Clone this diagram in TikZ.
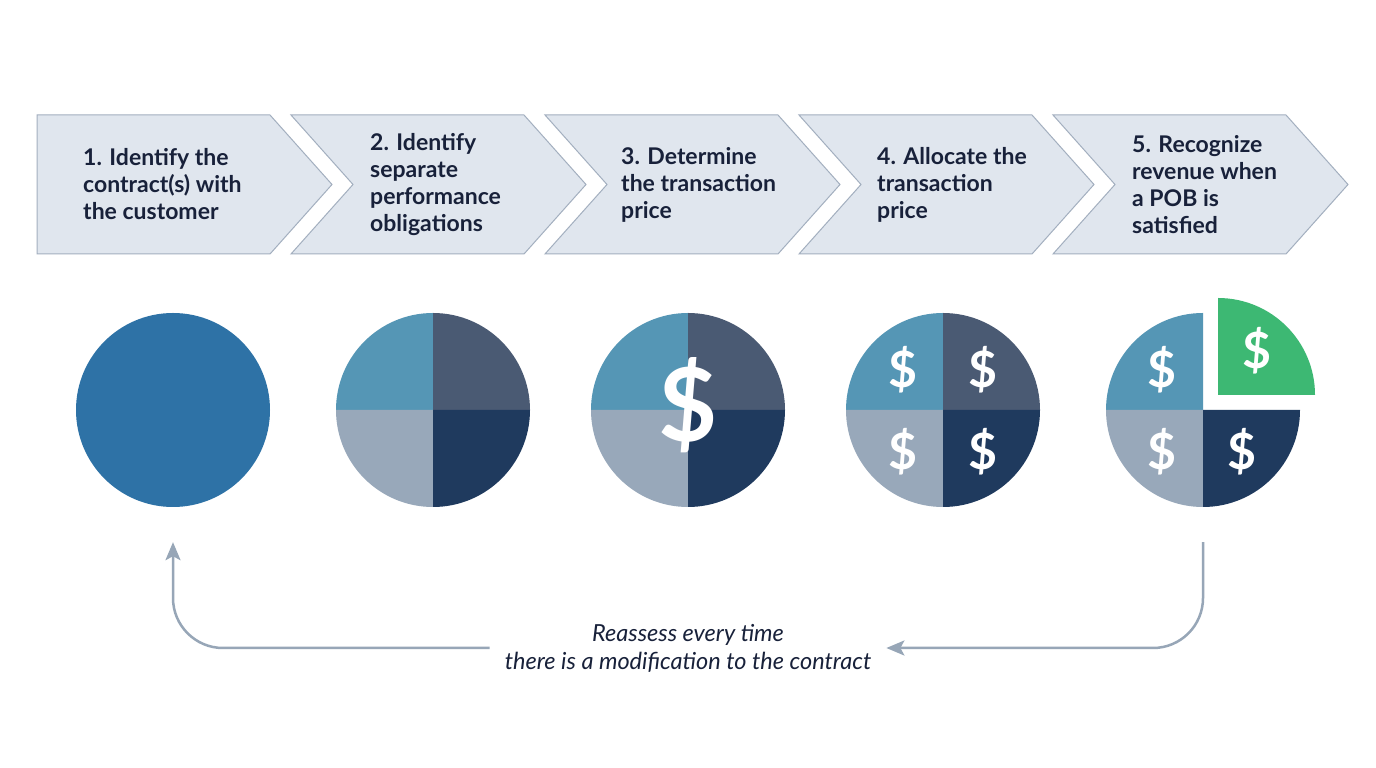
\documentclass[tikz,border=0pt]{standalone}
\usepackage{fontspec}
\setmainfont{Lato}
\usepackage{tikz}
\usetikzlibrary{arrows.meta,positioning}
\definecolor{chevfill}{HTML}{E0E6EE}
\definecolor{chevline}{HTML}{A3AFBF}
\definecolor{inktext}{HTML}{18213A}
\definecolor{onecirc}{HTML}{2E72A6}
\definecolor{qteal}{HTML}{5596B5}
\definecolor{qslate}{HTML}{4A5A73}
\definecolor{qgray}{HTML}{98A8BA}
\definecolor{qnavy}{HTML}{1F3A5E}
\definecolor{qgreen}{HTML}{3DB873}
\definecolor{loopline}{HTML}{97A6B7}
\tikzset{
  chev/.style={fill=chevfill, draw=chevline, line width=1pt},
  steptext/.style={anchor=west, align=left, text=inktext,
    font=\fontsize{23}{27}\selectfont\bfseries, inner sep=0pt},
  disc/.style={circle, minimum size=194pt, inner sep=0pt},
  bigdollar/.style={text=white, font=\fontsize{102}{102}\selectfont\bfseries},
  dollar/.style={text=white, font=\fontsize{50}{50}\selectfont\bfseries},
  flow/.style={draw=loopline, line width=2.5pt, rounded corners=50pt},
}
\begin{document}
\begin{tikzpicture}[x=1pt,y=1pt]
  \useasboundingbox[fill=white] (0,0) rectangle (1376,768);
  % chevrons
  \draw[chev] (37,653)--(270,653)--(332,583.5)--(270,514)--(37,514)--cycle;
  \draw[chev] (291,653)--(524,653)--(586,583.5)--(524,514)--(291,514)--(353,583.5)--cycle;
  \draw[chev] (545,653)--(778,653)--(840,583.5)--(778,514)--(545,514)--(607,583.5)--cycle;
  \draw[chev] (799,653)--(1032,653)--(1094,583.5)--(1032,514)--(799,514)--(861,583.5)--cycle;
  \draw[chev] (1053,653)--(1286,653)--(1348,583.5)--(1286,514)--(1053,514)--(1115,583.5)--cycle;
  \node[steptext] (s1) at (83,583.5) {1. Identify the\\contract(s) with\\the customer};
  \node[steptext] (s2) at (370,583.5) {2. Identify\\separate\\performance\\obligations};
  \node[steptext] (s3) at (621,583.5) {3. Determine\\the transaction\\price};
  \node[steptext] (s4) at (877,583.5) {4. Allocate the\\transaction\\price};
  \node[steptext] (s5) at (1132,583.5) {5. Recognize\\revenue when\\a POB is\\satisfied};
  % circles
  \node[disc, fill=onecirc] (c1) at (173,358) {};
  \node[disc] (c2) at (433,358) {};
  \node[disc] (c3) at (688,358) {};
  \node[disc] (c4) at (943,358) {};
  \node[disc] (c5) at (1203,358) {};
  \fill[qteal] (c2.center)--++(-97,0) arc[start angle=180,end angle=90,radius=97]--cycle;
  \fill[qslate] (c2.center)--++(0,97) arc[start angle=90,end angle=0,radius=97]--cycle;
  \fill[qgray] (c2.center)--++(-97,0) arc[start angle=180,end angle=270,radius=97]--cycle;
  \fill[qnavy] (c2.center)--++(0,-97) arc[start angle=270,end angle=360,radius=97]--cycle;
  \fill[qteal] (c3.center)--++(-97,0) arc[start angle=180,end angle=90,radius=97]--cycle;
  \fill[qslate] (c3.center)--++(0,97) arc[start angle=90,end angle=0,radius=97]--cycle;
  \fill[qgray] (c3.center)--++(-97,0) arc[start angle=180,end angle=270,radius=97]--cycle;
  \fill[qnavy] (c3.center)--++(0,-97) arc[start angle=270,end angle=360,radius=97]--cycle;
  \node[bigdollar] at ([yshift=5pt]c3.center) {\$};
  \fill[qteal] (c4.center)--++(-97,0) arc[start angle=180,end angle=90,radius=97]--cycle;
  \fill[qslate] (c4.center)--++(0,97) arc[start angle=90,end angle=0,radius=97]--cycle;
  \fill[qgray] (c4.center)--++(-97,0) arc[start angle=180,end angle=270,radius=97]--cycle;
  \fill[qnavy] (c4.center)--++(0,-97) arc[start angle=270,end angle=360,radius=97]--cycle;
  \node[dollar] at ([shift={(-40,40)}]c4.center) {\$};
  \node[dollar] at ([shift={(40,40)}]c4.center) {\$};
  \node[dollar] at ([shift={(-40,-42)}]c4.center) {\$};
  \node[dollar] at ([shift={(40,-42)}]c4.center) {\$};
  \fill[qteal] (c5.center)--++(-97,0) arc[start angle=180,end angle=90,radius=97]--cycle;
  \fill[qgreen] ([shift={(15,15)}]c5.center)--++(0,97) arc[start angle=90,end angle=0,radius=97]--cycle;
  \fill[qgray] (c5.center)--++(-97,0) arc[start angle=180,end angle=270,radius=97]--cycle;
  \fill[qnavy] (c5.center)--++(0,-97) arc[start angle=270,end angle=360,radius=97]--cycle;
  \node[dollar] at ([shift={(-41,40)}]c5.center) {\$};
  \node[dollar] at ([shift={(54,59)}]c5.center) {\$};
  \node[dollar] at ([shift={(-41,-42)}]c5.center) {\$};
  \node[dollar] at ([shift={(39,-42)}]c5.center) {\$};
  % reassess loop
  \node[text=inktext, font=\fontsize{23.5}{28}\selectfont\itshape, align=center,
    inner xsep=15pt] (note) at (688,120) {Reassess every time\\there is a modification to the contract};
  \draw[flow, -{Stealth[length=18pt,width=15pt,inset=4pt]}]
    ([yshift=-35pt]c5.south) |- (note.east);
  \draw[flow, -{Stealth[length=18pt,width=15pt,inset=4pt]}]
    (note.west) -| ([yshift=-35pt]c1.south);
\end{tikzpicture}
\end{document}
